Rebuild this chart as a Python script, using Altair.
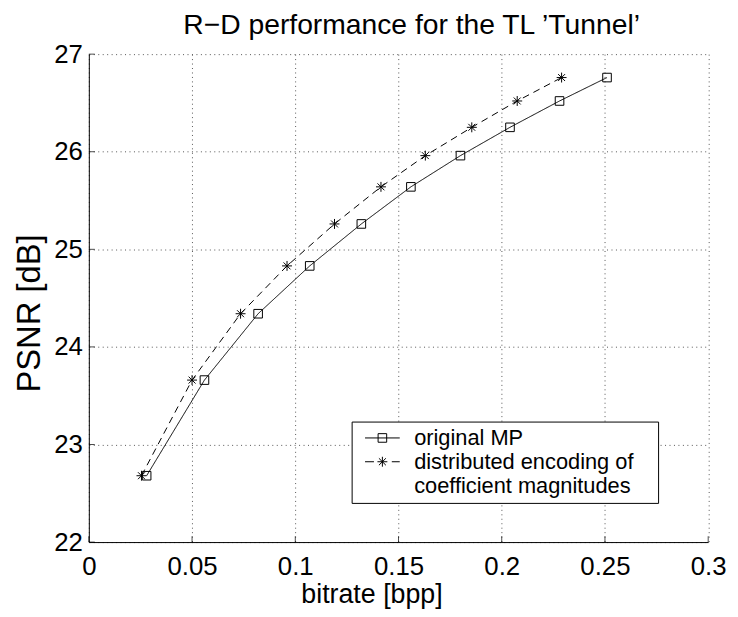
import altair as alt
import pandas as pd

# ---- data ----
mp_bitrate = [0.028, 0.056, 0.082, 0.107, 0.132, 0.156, 0.180, 0.204, 0.228, 0.251]
dist_bitrate = [0.0255, 0.050, 0.0735, 0.096, 0.119, 0.1415, 0.163, 0.1855, 0.2075, 0.229]
psnr = [22.68, 23.66, 24.34, 24.83, 25.26, 25.64, 25.96, 26.25, 26.52, 26.76]
series_codes = ["MP", "dist"]
label_mp = "original MP"
label_dist = ["distributed encoding of", "coefficient magnitudes"]
title_text = "R\u2212D performance for the TL \u2019Tunnel\u2019"
x_ticks = [0, 0.05, 0.1, 0.15, 0.2, 0.25, 0.3]
y_ticks = [22, 23, 24, 25, 26, 27]

FONT = "Liberation Sans"
STAR = "M-1,0L1,0M0,-1L0,1M-0.7,-0.7L0.7,0.7M-0.7,0.7L0.7,-0.7"

df = pd.DataFrame({
    "bitrate": mp_bitrate + dist_bitrate,
    "psnr": psnr + psnr,
    "series": [series_codes[0]] * len(mp_bitrate) + [series_codes[1]] * len(dist_bitrate),
})
xt = pd.DataFrame({"v": x_ticks})
yt = pd.DataFrame({"v": y_ticks})
one = pd.DataFrame({"k": [0]})

xscale = alt.Scale(domain=[0, 0.3], nice=False, zero=False)
yscale = alt.Scale(domain=[22, 27], nice=False, zero=False)

xaxis = alt.Axis(values=x_ticks, format="~g", title="bitrate [bpp]",
                 titleFont=FONT, titleFontSize=27, titleFontWeight="normal", titleColor="black",
                 titleX=285, titleY=61, titleBaseline="alphabetic",
                 labelFont=FONT, labelFontSize=26, labelColor="black", labelPadding=12,
                 labelFlush=False, ticks=False, tickSize=0,
                 grid=True, gridDash=[1, 3.5], gridColor="#555", gridWidth=1,
                 domainColor="black", domainWidth=1)
yaxis = alt.Axis(values=y_ticks, format="~g", title="PSNR [dB]",
                 titleFont=FONT, titleFontSize=33, titleFontWeight="normal", titleColor="black",
                 titleAngle=270, titleX=-49.5, titleY=261, titleBaseline="alphabetic",
                 labelFont=FONT, labelFontSize=26, labelColor="black", labelPadding=6.5,
                 labelFlush=False, ticks=False, tickSize=0,
                 grid=True, gridDash=[1, 3.5], gridColor="#555", gridWidth=1,
                 domainColor="black", domainWidth=1)

base = alt.Chart(df)
lines = base.mark_line(color="black", strokeWidth=1).encode(
    x=alt.X("bitrate:Q", scale=xscale, axis=xaxis),
    y=alt.Y("psnr:Q", scale=yscale, axis=yaxis),
    strokeDash=alt.StrokeDash("series:N",
                              scale=alt.Scale(domain=series_codes, range=[[1, 0], [7, 5]]),
                              legend=None),
)
pts_mp = base.transform_filter(alt.datum.series == "MP").mark_point(
    shape="square", size=75, filled=False, color="black", strokeWidth=1, opacity=1
).encode(x="bitrate:Q", y="psnr:Q")
pts_dist = base.transform_filter(alt.datum.series == "dist").mark_point(
    shape=STAR, size=100, filled=False, color="black", strokeWidth=1, opacity=1
).encode(x="bitrate:Q", y="psnr:Q")

xticks = alt.Chart(xt).mark_tick(orient="vertical", size=6, yOffset=-3, color="black",
                                 thickness=1).encode(x="v:Q", y=alt.datum(22))
yticks = alt.Chart(yt).mark_tick(orient="horizontal", size=6, xOffset=3, color="black",
                                 thickness=1).encode(x=alt.datum(0), y="v:Q")

# ---- title and legend box (guide decoration, pixel placement) ----
lg = alt.Chart(one)
title_mark = lg.mark_text(text=title_text, font=FONT, fontSize=28.5, color="black",
                          align="center", baseline="alphabetic").encode(
    x=alt.value(325.5), y=alt.value(-20))
leg_box = lg.mark_rect(fill="white", stroke="black", strokeWidth=1).encode(
    x=alt.value(265.5), x2=alt.value(574.5), y=alt.value(371), y2=alt.value(453))
leg_line1 = lg.mark_rule(color="black", strokeWidth=1).encode(
    x=alt.value(278.5), x2=alt.value(313.5), y=alt.value(387))
leg_sym1 = lg.mark_point(shape="square", size=75, filled=False, color="black",
                         strokeWidth=1, opacity=1).encode(x=alt.value(296), y=alt.value(387))
leg_line2 = lg.mark_rule(color="black", strokeWidth=1, strokeDash=[9, 18]).encode(
    x=alt.value(278.5), x2=alt.value(313.5), y=alt.value(411))
leg_sym2 = lg.mark_point(shape=STAR, size=100, filled=False, color="black",
                         strokeWidth=1, opacity=1).encode(x=alt.value(296), y=alt.value(411))
txt_kw = dict(font=FONT, fontSize=22, color="black", align="left", baseline="middle")
leg_t1 = lg.mark_text(text=label_mp, **txt_kw).encode(x=alt.value(328), y=alt.value(387))
leg_t2 = lg.mark_text(text=label_dist[0], **txt_kw).encode(x=alt.value(328), y=alt.value(411))
leg_t3 = lg.mark_text(text=label_dist[1], **txt_kw).encode(x=alt.value(328), y=alt.value(435.5))

chart = alt.layer(lines, pts_mp, pts_dist, xticks, yticks, title_mark,
                  leg_box, leg_line1, leg_sym1, leg_line2, leg_sym2,
                  leg_t1, leg_t2, leg_t3).properties(
    width=624.5, height=492,
    padding={"left": 81.5, "top": 44, "right": 22, "bottom": 70},
    autosize=alt.AutoSizeParams(type="none"),
).configure_view(strokeWidth=0)

chart.save("out.html", embed_options={"renderer": "svg", "actions": False})
